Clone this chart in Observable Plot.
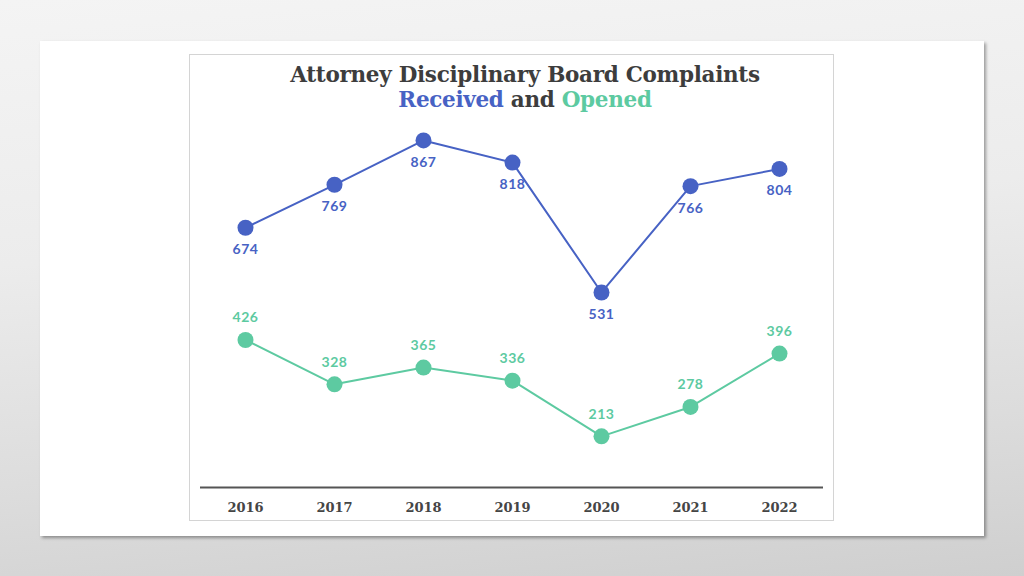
<!DOCTYPE html>
<html>
<head>
<meta charset="utf-8">
<script src="https://cdn.jsdelivr.net/npm/d3@7"></script>
<script src="https://cdn.jsdelivr.net/npm/@observablehq/plot@0.6"></script>
<style>
  html, body { margin: 0; padding: 0; }
  body {
    width: 1024px; height: 576px; overflow: hidden; position: relative;
    background: linear-gradient(175deg, #f4f4f4 0%, #ececec 40%, #dcdcdc 75%, #cfcfcf 100%);
  }
  #slide {
    position: absolute; left: 40px; top: 41px; width: 944px; height: 495px;
    background: #fff; box-shadow: 2px 2px 3px rgba(0,0,0,0.35);
  }
  #box {
    position: absolute; left: 189px; top: 54px; width: 643px; height: 465px;
    border: 1px solid #d4d4d4; background: #fff;
  }
  #title {
    position: absolute; left: 200px; top: 62px; width: 650px; text-align: center;
    font-family: "DejaVu Serif", serif; font-weight: bold; font-size: 21.5px; line-height: 25px;
    color: #3d3d3d; letter-spacing: -0.3px;
  }
  #chart { position: absolute; left: 189px; top: 115px; }
</style>
</head>
<body>
<div id="slide"></div>
<div id="box"></div>
<div id="title">Attorney Disciplinary Board Complaints<br><span style="color:#4762c4">Received</span> and <span style="color:#5dcaa1">Opened</span></div>
<div id="chart"></div>
<script>
const years = ["2016", "2017", "2018", "2019", "2020", "2021", "2022"];
const received = [674, 769, 867, 818, 531, 766, 804];
const opened = [426, 328, 365, 336, 213, 278, 396];

const blue = "#4762c4";
const teal = "#5dcaa1";

const recRows = years.map((y, i) => ({year: y, value: received[i]}));
const opRows = years.map((y, i) => ({year: y, value: opened[i]}));

const labelFont = "Lato, 'Open Sans', sans-serif";

const chart = Plot.plot({
  width: 645,
  height: 406,
  marginLeft: 11,
  marginRight: 11,
  marginTop: 10,
  marginBottom: 34,
  x: {type: "point", domain: years, padding: 0.5},
  y: {domain: [100, 900], axis: null},
  marks: [
    Plot.ruleY([100], {stroke: "#555", strokeWidth: 2}),
    Plot.axisX({tickSize: 0, tickPadding: 15, label: null, fontSize: 13, fontWeight: "bold",
      fontFamily: "'DejaVu Serif', serif", fill: "#454545"}),
    Plot.line(recRows, {x: "year", y: "value", stroke: blue, strokeWidth: 2}),
    Plot.dot(recRows, {x: "year", y: "value", r: 8, fill: blue}),
    Plot.text(recRows, {x: "year", y: "value", text: d => String(d.value), dy: 22,
      fill: blue, fontSize: 14, fontWeight: "bold", fontFamily: labelFont, style: "letter-spacing:0.6px"}),
    Plot.line(opRows, {x: "year", y: "value", stroke: teal, strokeWidth: 2}),
    Plot.dot(opRows, {x: "year", y: "value", r: 8, fill: teal}),
    Plot.text(opRows, {x: "year", y: "value", text: d => String(d.value), dy: -22,
      fill: teal, fontSize: 14, fontWeight: "bold", fontFamily: labelFont})
  ]
});
chart.querySelectorAll('g[aria-label="text"] text').forEach(t => t.style.letterSpacing = "0.6px");
document.getElementById("chart").appendChild(chart);
</script>
</body>
</html>
